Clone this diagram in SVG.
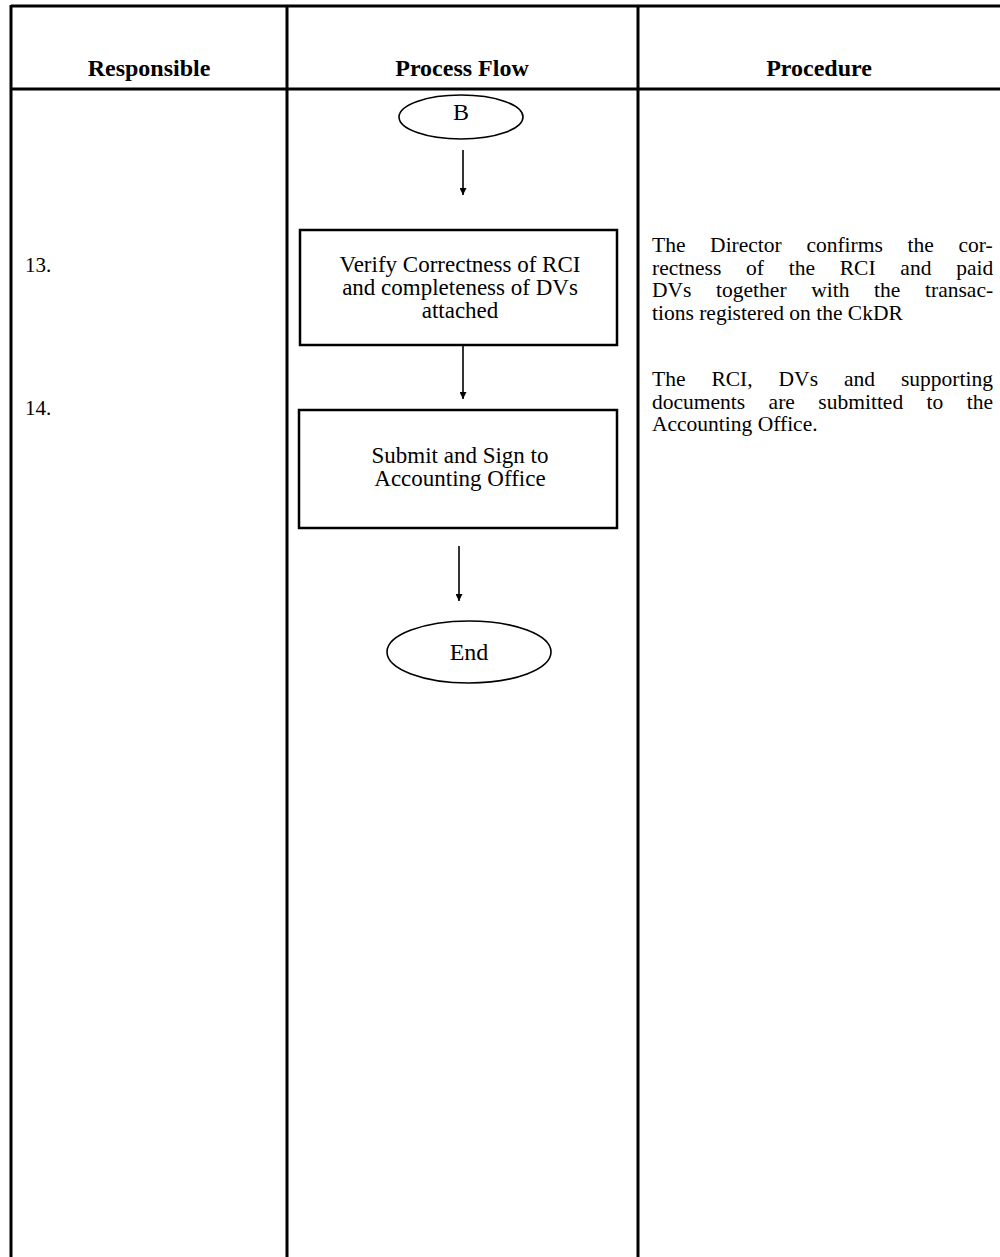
<svg xmlns="http://www.w3.org/2000/svg" width="1000" height="1257" viewBox="0 0 1000 1257">
  <style>
    .frame { stroke: #000; stroke-width: 3; fill: none; }
    .head { font-family: "Liberation Serif", "Times New Roman", serif; font-weight: bold; font-size: 24px; fill: #000; text-anchor: middle; }
    .body { font-family: "Liberation Serif", "Times New Roman", serif; font-size: 21.5px; fill: #000; }
    .num { font-family: "Liberation Serif", "Times New Roman", serif; font-size: 21px; fill: #000; }
    .label { font-family: "Liberation Serif", "Times New Roman", serif; font-size: 23px; fill: #000; text-anchor: middle; }
    .term-label { font-family: "Liberation Serif", "Times New Roman", serif; font-size: 24px; fill: #000; text-anchor: middle; }
    .box { stroke: #000; stroke-width: 2.5; fill: #fff; }
    .term { stroke: #000; stroke-width: 1.6; fill: #fff; }
    .flow { stroke: #000; stroke-width: 1.6; fill: none; marker-end: url(#arrow); }
  </style>
  <defs>
    <marker id="arrow" viewBox="0 0 10 10" refX="10" refY="5" markerWidth="7" markerHeight="7" markerUnits="userSpaceOnUse" orient="auto">
      <path d="M0,0 L10,5 L0,10 z" fill="#000"/>
    </marker>
  </defs>
  <rect width="1000" height="1257" fill="#fff"/>

  <!-- table frame: rules and column dividers -->
  <g id="table">
    <line class="frame" x1="11" y1="6" x2="1000" y2="6"/>
    <line class="frame" x1="11" y1="89" x2="1000" y2="89"/>
    <line class="frame" x1="11" y1="5" x2="11" y2="1257"/>
    <line class="frame" x1="287" y1="5" x2="287" y2="1257"/>
    <line class="frame" x1="638" y1="5" x2="638" y2="1257"/>
    <text class="head" x="149" y="76">Responsible</text>
    <text class="head" x="462" y="76">Process Flow</text>
    <text class="head" x="819" y="76">Procedure</text>
  </g>

  <!-- step numbers -->
  <g id="numbers">
    <text class="num" x="25" y="272">13.</text>
    <text class="num" x="25" y="415">14.</text>
  </g>

  <!-- flow nodes -->
  <g id="node-b">
    <ellipse class="term" cx="461" cy="117" rx="62" ry="22"/>
    <text class="term-label" x="461" y="120">B</text>
  </g>
  <g id="node-verify">
    <rect class="box" x="300" y="230" width="317" height="115"/>
    <text class="label" x="460" y="272">Verify Correctness of RCI</text>
    <text class="label" x="460" y="295">and completeness of DVs</text>
    <text class="label" x="460" y="318">attached</text>
  </g>
  <g id="node-submit">
    <rect class="box" x="299" y="410" width="318" height="118"/>
    <text class="label" x="460" y="463">Submit and Sign to</text>
    <text class="label" x="460" y="486">Accounting Office</text>
  </g>
  <g id="node-end">
    <ellipse class="term" cx="469" cy="652" rx="82" ry="31"/>
    <text class="term-label" x="469" y="660">End</text>
  </g>

  <!-- connectors -->
  <g id="connectors">
    <line class="flow" x1="463" y1="150" x2="463" y2="195"/>
    <line class="flow" x1="463" y1="346" x2="463" y2="399"/>
    <line class="flow" x1="459" y1="546" x2="459" y2="601"/>
  </g>

  <!-- procedure descriptions (justified lines use extra word spacing) -->
  <g id="procedure-13">
    <text class="body" x="652" y="252" word-spacing="19.3">The Director confirms the cor-</text>
    <text class="body" x="652" y="274.5" word-spacing="19.4">rectness of the RCI and paid</text>
    <text class="body" x="652" y="297" word-spacing="19.3">DVs together with the transac-</text>
    <text class="body" x="652" y="319.5">tions registered on the CkDR</text>
  </g>
  <g id="procedure-14">
    <text class="body" x="652" y="386" word-spacing="20.6">The RCI, DVs and supporting</text>
    <text class="body" x="652" y="408.5" word-spacing="18.1">documents are submitted to the</text>
    <text class="body" x="652" y="431">Accounting Office.</text>
  </g>
</svg>
